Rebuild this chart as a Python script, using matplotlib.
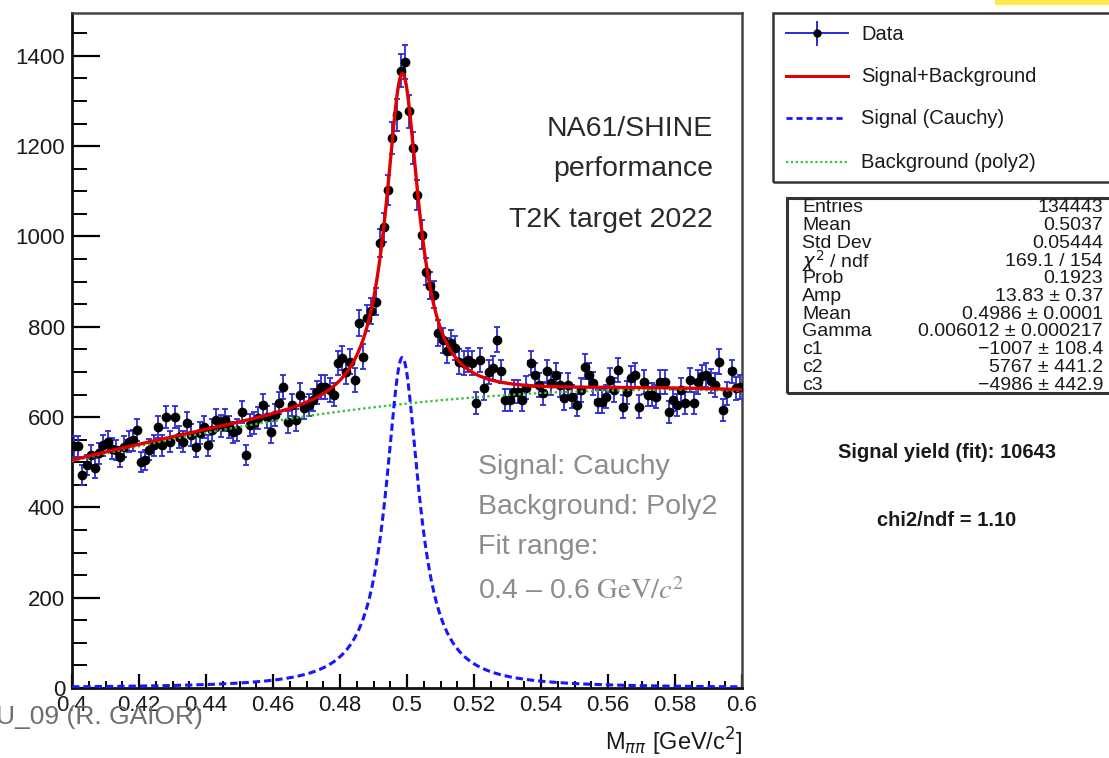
import numpy as np
import matplotlib
matplotlib.use("Agg")
import matplotlib.pyplot as plt
from matplotlib.patches import Rectangle
from matplotlib.lines import Line2D
from matplotlib.ticker import MultipleLocator, FixedLocator, FixedFormatter

plt.rcParams['font.family'] = ['Liberation Sans', 'DejaVu Sans']

# ---------------- data ----------------
x_low, x_high = 0.4, 0.6
counts = [
    535, 535, 472, 494, 516, 487, 520, 538, 545, 530,
    527, 512, 534, 545, 549, 571, 501, 505, 528, 538,
    578, 538, 600, 545, 600, 556, 545, 587, 560, 534,
    565, 578, 538, 572, 593, 580, 593, 578, 566, 571,
    611, 516, 582, 587, 598, 627, 600, 567, 605, 631,
    667, 589, 627, 593, 649, 620, 627, 638, 655, 667,
    667, 660, 650, 719, 731, 700, 723, 682, 808, 734,
    820, 835, 856, 986, 1020, 1103, 1218, 1269, 1367, 1387,
    1277, 1196, 1092, 1004, 922, 891, 871, 786, 770, 747,
    765, 753, 723, 719, 727, 719, 631, 727, 664, 700,
    709, 771, 701, 638, 638, 656, 656, 638, 665, 719,
    693, 671, 653, 701, 675, 693, 671, 642, 671, 645,
    627, 660, 712, 693, 675, 634, 634, 645, 682, 660,
    704, 623, 655, 687, 693, 623, 678, 649, 649, 645,
    678, 678, 612, 638, 627, 660, 631, 682, 631, 678,
    690, 693, 680, 671, 723, 616, 653, 701, 664, 667,
]

# fit parameters (from the stats box)
amp, mean, gamma = 13.83, 0.4986, 0.006012
c1, c2, c3 = -1007.0, 5767.0, -4986.0

y_ticks = [0, 200, 400, 600, 800, 1000, 1200, 1400]
x_ticks = [0.40, 0.42, 0.44, 0.46, 0.48, 0.50, 0.52, 0.54, 0.56, 0.58, 0.60]
x_tick_labels = ['0.4', '0.42', '0.44', '0.46', '0.48', '0.5', '0.52', '0.54', '0.56', '0.58', '0.6']

legend_labels = ['Data', 'Signal+Background', 'Signal (Cauchy)', 'Background (poly2)']
stats_labels = ['Entries', 'Mean', 'Std Dev', r'$\chi^2$ / ndf', 'Prob', 'Amp', 'Mean', 'Gamma', 'c1', 'c2', 'c3']
stats_values = ['134443', '0.5037', '0.05444', '169.1 / 154', '0.1923', '13.83 \u00b1 0.37',
                '0.4986 \u00b1 0.0001', '0.006012 \u00b1 0.000217', '\u22121007 \u00b1 108.4',
                '5767 \u00b1 441.2', '\u22124986 \u00b1 442.9']
signal_yield = 10643
chi2_ndf = 1.10

# ---------------- figure ----------------
W, H = 1109, 758
fig = plt.figure(figsize=(W / 100, H / 100), dpi=100)

def fx(x):
    return x / W

def fy(y):
    return 1 - y / H

ax = fig.add_axes([fx(72), fy(688), (742 - 72) / W, (688 - 13) / H])

counts_arr = np.array(counts, dtype=float)
n = len(counts_arr)
edges = np.linspace(x_low, x_high, n + 1)
centers = 0.5 * (edges[:-1] + edges[1:])
bw = edges[1] - edges[0]

ax.errorbar(centers, counts_arr, yerr=np.sqrt(counts_arr), xerr=bw / 2, fmt='o',
            color='black', ms=6, ecolor='#2b2bd6', elinewidth=1.3, capsize=2.0,
            capthick=1.3, zorder=3)

xf = np.linspace(x_low, x_high, 1200)
sig = amp / np.pi * gamma / ((xf - mean) ** 2 + gamma ** 2)
bkg = c1 + c2 * xf + c3 * xf ** 2
ax.plot(xf, bkg, color='#3cc03c', lw=1.7, ls=(0, (1, 1.2)), zorder=4)
ax.plot(xf, sig, color='#1616ff', lw=2.2, ls=(0, (2.4, 1.3)), zorder=4)
ax.plot(xf, sig + bkg, color='#e00000', lw=2.4, zorder=5)

ax.set_xlim(x_low, x_high)
ax.set_ylim(0, 1495)

ax.yaxis.set_major_locator(FixedLocator(y_ticks))
ax.yaxis.set_minor_locator(MultipleLocator(50))
ax.xaxis.set_major_locator(FixedLocator(x_ticks))
ax.xaxis.set_major_formatter(FixedFormatter(x_tick_labels))
ax.xaxis.set_minor_locator(MultipleLocator(0.005))

ax.tick_params(axis='y', which='major', direction='in', length=20, width=1.6,
               labelsize=16, pad=5, labelcolor='#1a1a1a', right=False)
ax.tick_params(axis='y', which='minor', direction='in', length=11, width=1.4, right=False)
ax.tick_params(axis='x', which='major', direction='in', length=10, width=1.6,
               labelsize=16, pad=5, labelcolor='#1a1a1a', top=False)
ax.tick_params(axis='x', which='minor', direction='in', length=5, width=1.4, top=False)

for side in ['left', 'bottom']:
    ax.spines[side].set_linewidth(2.0)
    ax.spines[side].set_color('#111111')
for side in ['top', 'right']:
    ax.spines[side].set_linewidth(1.8)
    ax.spines[side].set_color('#444444')

# axis title
fig.text(fx(743), fy(742), r'M$_{\pi\pi}$ [GeV/c$^{2}$]', ha='right', va='center',
         fontsize=17, color='#1a1a1a')

# annotations inside the plot
for txt, y in [('NA61/SHINE', 129), ('performance', 169), ('T2K target 2022', 220)]:
    fig.text(fx(713), fy(y), txt, ha='right', va='center', fontsize=20.5, color='#2a2a2a')

gray = '#8c8c8c'
for txt, y in [('Signal: Cauchy', 467), ('Background: Poly2', 507), ('Fit range:', 547)]:
    fig.text(fx(478), fy(y), txt, ha='left', va='center', fontsize=20.5, color=gray)
fig.text(fx(478), fy(592), '0.4 \u2013 0.6 ' + r'$\mathrm{GeV}/c^{2}$', ha='left', va='center',
         fontsize=20.5, color=gray, math_fontfamily='stix')

# bottom-left overlapping credit text
fig.text(fx(203), fy(717), 'U_09 (R. GAIOR)', ha='right', va='center', fontsize=19,
         color='#6e6e6e')

# yellow bar top right
fig.add_artist(Rectangle((fx(995), fy(5)), (W - 995) / W, 5 / H, transform=fig.transFigure,
                         facecolor='#ffe84a', edgecolor='none'))

# legend box
fig.add_artist(Rectangle((fx(773), fy(182)), (W + 10 - 773) / W, (182 - 13) / H,
                         transform=fig.transFigure, fill=False, edgecolor='#333333', lw=1.8))
leg_y = [34, 77, 119, 162]
tr = fig.transFigure
fig.add_artist(Line2D([fx(786), fx(848)], [fy(33), fy(33)], color='#2b2bd6', lw=1.4, transform=tr))
fig.add_artist(Line2D([fx(817), fx(817)], [fy(22), fy(45)], color='#2b2bd6', lw=1.4, transform=tr))
fig.add_artist(Line2D([fx(817)], [fy(33)], marker='o', ms=5, color='black', transform=tr))
fig.add_artist(Line2D([fx(786), fx(848)], [fy(76), fy(76)], color='#e00000', lw=2.2, transform=tr))
fig.add_artist(Line2D([fx(786), fx(846)], [fy(118), fy(118)], color='#1616ff', lw=2.0,
                      ls=(0, (2.2, 1.4)), transform=tr))
fig.add_artist(Line2D([fx(786), fx(848)], [fy(162), fy(162)], color='#3cc03c', lw=1.6,
                      ls=(0, (1, 1.2)), transform=tr))
for lab, y in zip(legend_labels, leg_y):
    fig.text(fx(861), fy(y), lab, ha='left', va='center', fontsize=14.5, color='#1a1a1a')

# stats box
fig.add_artist(Rectangle((fx(787), fy(393)), (W + 10 - 787) / W, (393 - 198) / H,
                         transform=tr, fill=False, edgecolor='#333333', lw=2.2))
for i, (lab, val) in enumerate(zip(stats_labels, stats_values)):
    y = 208 + i * 17.7
    fig.text(fx(802), fy(y), lab, ha='left', va='center', fontsize=14, color='#1a1a1a')
    fig.text(fx(1103), fy(y), val, ha='right', va='center', fontsize=14, color='#1a1a1a')

fig.text(fx(947), fy(452), f'Signal yield (fit): {signal_yield}', ha='center', va='center',
         fontsize=14.5, fontweight='bold', color='#1a1a1a')
fig.text(fx(947), fy(521), f'chi2/ndf = {chi2_ndf:.2f}', ha='center', va='center',
         fontsize=14.5, fontweight='bold', color='#1a1a1a')

fig.savefig('out.png', dpi=100)
